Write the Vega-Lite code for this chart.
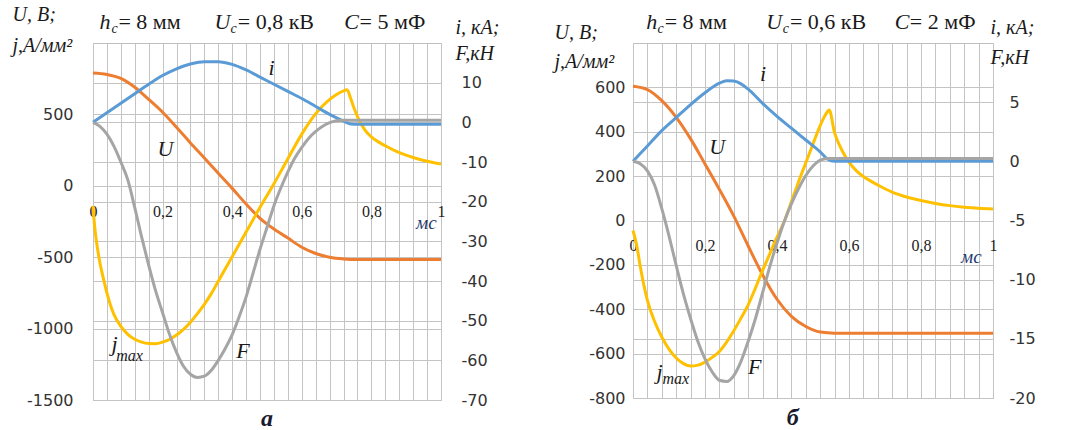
{
"$schema":"https://vega.github.io/schema/vega-lite/v6.json",
"background":"white",
"padding":{"left":11,"top":3,"right":0,"bottom":0},
"autosize":{"type":"pad"},
"spacing":192,
"bounds":"flush",
"config":{
 "view":{"stroke":"#BFBFBF","strokeWidth":1},
 "axis":{"gridColor":"#C4C4C4","gridWidth":1,"domain":false,"ticks":false,"tickSize":0,"tickCount":40,"labelFont":"DejaVu Sans","labelFontSize":16,"labelColor":"#333333"},
 "text":{"font":"Liberation Serif","fontStyle":"italic","color":"#1a1a1a"}
},
"datasets":{
"a":[
{"t":0,"v":790,"s":"U"},{"t":0.04,"v":780,"s":"U"},{"t":0.08,"v":752,"s":"U"},{"t":0.12,"v":690,"s":"U"},{"t":0.16,"v":605,"s":"U"},{"t":0.2,"v":515,"s":"U"},{"t":0.24,"v":410,"s":"U"},{"t":0.28,"v":300,"s":"U"},{"t":0.32,"v":195,"s":"U"},{"t":0.36,"v":88,"s":"U"},{"t":0.4,"v":-18,"s":"U"},{"t":0.44,"v":-128,"s":"U"},{"t":0.48,"v":-228,"s":"U"},{"t":0.52,"v":-303,"s":"U"},{"t":0.56,"v":-366,"s":"U"},{"t":0.6,"v":-430,"s":"U"},{"t":0.64,"v":-474,"s":"U"},{"t":0.68,"v":-500,"s":"U"},{"t":0.72,"v":-512,"s":"U"},{"t":0.76,"v":-516,"s":"U"},{"t":0.88,"v":-516,"s":"U"},{"t":1,"v":-516,"s":"U"},
{"t":0,"v":-140,"s":"j"},{"t":0.005,"v":-290,"s":"j"},{"t":0.01,"v":-390,"s":"j"},{"t":0.02,"v":-540,"s":"j"},{"t":0.03,"v":-650,"s":"j"},{"t":0.04,"v":-750,"s":"j"},{"t":0.05,"v":-835,"s":"j"},{"t":0.06,"v":-900,"s":"j"},{"t":0.08,"v":-985,"s":"j"},{"t":0.1,"v":-1040,"s":"j"},{"t":0.12,"v":-1075,"s":"j"},{"t":0.14,"v":-1095,"s":"j"},{"t":0.16,"v":-1105,"s":"j"},{"t":0.18,"v":-1106,"s":"j"},{"t":0.2,"v":-1095,"s":"j"},{"t":0.22,"v":-1075,"s":"j"},{"t":0.24,"v":-1045,"s":"j"},{"t":0.26,"v":-1005,"s":"j"},{"t":0.28,"v":-955,"s":"j"},{"t":0.3,"v":-895,"s":"j"},{"t":0.32,"v":-830,"s":"j"},{"t":0.34,"v":-755,"s":"j"},{"t":0.36,"v":-668,"s":"j"},{"t":0.4,"v":-496,"s":"j"},{"t":0.44,"v":-324,"s":"j"},{"t":0.48,"v":-151,"s":"j"},{"t":0.52,"v":15,"s":"j"},{"t":0.56,"v":190,"s":"j"},{"t":0.6,"v":362,"s":"j"},{"t":0.64,"v":505,"s":"j"},{"t":0.68,"v":605,"s":"j"},{"t":0.7,"v":640,"s":"j"},{"t":0.72,"v":665,"s":"j"},{"t":0.73,"v":672,"s":"j"},{"t":0.74,"v":615,"s":"j"},{"t":0.75,"v":545,"s":"j"},{"t":0.76,"v":485,"s":"j"},{"t":0.78,"v":395,"s":"j"},{"t":0.8,"v":342,"s":"j"},{"t":0.84,"v":280,"s":"j"},{"t":0.88,"v":232,"s":"j"},{"t":0.92,"v":198,"s":"j"},{"t":0.96,"v":172,"s":"j"},{"t":1,"v":153,"s":"j"},
{"t":0,"v":0,"s":"i"},{"t":0.04,"v":2.4,"s":"i"},{"t":0.08,"v":4.8,"s":"i"},{"t":0.12,"v":7.2,"s":"i"},{"t":0.16,"v":9.6,"s":"i"},{"t":0.2,"v":11.8,"s":"i"},{"t":0.24,"v":13.5,"s":"i"},{"t":0.28,"v":14.7,"s":"i"},{"t":0.32,"v":15.3,"s":"i"},{"t":0.36,"v":15.3,"s":"i"},{"t":0.4,"v":14.6,"s":"i"},{"t":0.44,"v":13.2,"s":"i"},{"t":0.48,"v":11.4,"s":"i"},{"t":0.52,"v":9.6,"s":"i"},{"t":0.56,"v":7.8,"s":"i"},{"t":0.6,"v":6,"s":"i"},{"t":0.64,"v":4,"s":"i"},{"t":0.68,"v":2,"s":"i"},{"t":0.72,"v":0.3,"s":"i"},{"t":0.74,"v":-0.4,"s":"i"},{"t":0.76,"v":-0.5,"s":"i"},{"t":0.88,"v":-0.5,"s":"i"},{"t":1,"v":-0.5,"s":"i"},
{"t":0,"v":0,"s":"F"},{"t":0.02,"v":-1,"s":"F"},{"t":0.04,"v":-3,"s":"F"},{"t":0.06,"v":-6,"s":"F"},{"t":0.08,"v":-10,"s":"F"},{"t":0.1,"v":-14.5,"s":"F"},{"t":0.12,"v":-21.5,"s":"F"},{"t":0.14,"v":-29,"s":"F"},{"t":0.16,"v":-36,"s":"F"},{"t":0.18,"v":-42.5,"s":"F"},{"t":0.2,"v":-48,"s":"F"},{"t":0.22,"v":-53.5,"s":"F"},{"t":0.24,"v":-58,"s":"F"},{"t":0.26,"v":-61.5,"s":"F"},{"t":0.28,"v":-63.5,"s":"F"},{"t":0.3,"v":-64.3,"s":"F"},{"t":0.32,"v":-64,"s":"F"},{"t":0.34,"v":-62.5,"s":"F"},{"t":0.36,"v":-60,"s":"F"},{"t":0.38,"v":-57,"s":"F"},{"t":0.4,"v":-53.5,"s":"F"},{"t":0.42,"v":-49,"s":"F"},{"t":0.44,"v":-44,"s":"F"},{"t":0.46,"v":-38,"s":"F"},{"t":0.48,"v":-32,"s":"F"},{"t":0.5,"v":-26.5,"s":"F"},{"t":0.52,"v":-21,"s":"F"},{"t":0.54,"v":-16.5,"s":"F"},{"t":0.56,"v":-12.5,"s":"F"},{"t":0.58,"v":-9,"s":"F"},{"t":0.6,"v":-6.3,"s":"F"},{"t":0.62,"v":-4,"s":"F"},{"t":0.64,"v":-2.3,"s":"F"},{"t":0.66,"v":-1,"s":"F"},{"t":0.68,"v":-0.1,"s":"F"},{"t":0.7,"v":0.4,"s":"F"},{"t":0.72,"v":0.5,"s":"F"},{"t":0.88,"v":0.5,"s":"F"},{"t":1,"v":0.5,"s":"F"}
],
"b":[
{"t":0,"v":605,"s":"U"},{"t":0.04,"v":590,"s":"U"},{"t":0.08,"v":540,"s":"U"},{"t":0.12,"v":465,"s":"U"},{"t":0.16,"v":368,"s":"U"},{"t":0.2,"v":255,"s":"U"},{"t":0.24,"v":140,"s":"U"},{"t":0.28,"v":20,"s":"U"},{"t":0.32,"v":-115,"s":"U"},{"t":0.36,"v":-245,"s":"U"},{"t":0.4,"v":-355,"s":"U"},{"t":0.44,"v":-432,"s":"U"},{"t":0.48,"v":-478,"s":"U"},{"t":0.52,"v":-503,"s":"U"},{"t":0.56,"v":-508,"s":"U"},{"t":0.8,"v":-508,"s":"U"},{"t":1,"v":-508,"s":"U"},
{"t":0,"v":-45,"s":"j"},{"t":0.01,"v":-110,"s":"j"},{"t":0.02,"v":-205,"s":"j"},{"t":0.03,"v":-290,"s":"j"},{"t":0.04,"v":-360,"s":"j"},{"t":0.06,"v":-455,"s":"j"},{"t":0.08,"v":-525,"s":"j"},{"t":0.1,"v":-580,"s":"j"},{"t":0.12,"v":-620,"s":"j"},{"t":0.14,"v":-645,"s":"j"},{"t":0.16,"v":-656,"s":"j"},{"t":0.18,"v":-652,"s":"j"},{"t":0.2,"v":-638,"s":"j"},{"t":0.22,"v":-617,"s":"j"},{"t":0.24,"v":-590,"s":"j"},{"t":0.26,"v":-548,"s":"j"},{"t":0.28,"v":-497,"s":"j"},{"t":0.3,"v":-440,"s":"j"},{"t":0.32,"v":-380,"s":"j"},{"t":0.34,"v":-305,"s":"j"},{"t":0.36,"v":-225,"s":"j"},{"t":0.38,"v":-150,"s":"j"},{"t":0.4,"v":-75,"s":"j"},{"t":0.42,"v":-5,"s":"j"},{"t":0.44,"v":85,"s":"j"},{"t":0.46,"v":175,"s":"j"},{"t":0.48,"v":260,"s":"j"},{"t":0.5,"v":345,"s":"j"},{"t":0.52,"v":428,"s":"j"},{"t":0.54,"v":490,"s":"j"},{"t":0.545,"v":498,"s":"j"},{"t":0.56,"v":395,"s":"j"},{"t":0.57,"v":352,"s":"j"},{"t":0.58,"v":318,"s":"j"},{"t":0.6,"v":263,"s":"j"},{"t":0.62,"v":225,"s":"j"},{"t":0.64,"v":198,"s":"j"},{"t":0.68,"v":160,"s":"j"},{"t":0.72,"v":128,"s":"j"},{"t":0.76,"v":106,"s":"j"},{"t":0.8,"v":90,"s":"j"},{"t":0.84,"v":77,"s":"j"},{"t":0.88,"v":67,"s":"j"},{"t":0.92,"v":60,"s":"j"},{"t":0.96,"v":55,"s":"j"},{"t":1,"v":52,"s":"j"},
{"t":0,"v":0,"s":"i"},{"t":0.04,"v":1.3,"s":"i"},{"t":0.08,"v":2.6,"s":"i"},{"t":0.12,"v":3.7,"s":"i"},{"t":0.16,"v":4.8,"s":"i"},{"t":0.2,"v":5.8,"s":"i"},{"t":0.24,"v":6.6,"s":"i"},{"t":0.26,"v":6.82,"s":"i"},{"t":0.28,"v":6.78,"s":"i"},{"t":0.3,"v":6.55,"s":"i"},{"t":0.32,"v":6.1,"s":"i"},{"t":0.36,"v":4.9,"s":"i"},{"t":0.4,"v":3.8,"s":"i"},{"t":0.44,"v":2.8,"s":"i"},{"t":0.48,"v":1.8,"s":"i"},{"t":0.52,"v":0.8,"s":"i"},{"t":0.54,"v":0.2,"s":"i"},{"t":0.56,"v":0,"s":"i"},{"t":0.8,"v":0,"s":"i"},{"t":1,"v":0,"s":"i"},
{"t":0,"v":0,"s":"F"},{"t":0.02,"v":-0.2,"s":"F"},{"t":0.04,"v":-0.8,"s":"F"},{"t":0.06,"v":-2,"s":"F"},{"t":0.08,"v":-4,"s":"F"},{"t":0.1,"v":-6.3,"s":"F"},{"t":0.12,"v":-8.8,"s":"F"},{"t":0.14,"v":-11.2,"s":"F"},{"t":0.16,"v":-13.3,"s":"F"},{"t":0.18,"v":-15.2,"s":"F"},{"t":0.2,"v":-16.7,"s":"F"},{"t":0.22,"v":-17.8,"s":"F"},{"t":0.24,"v":-18.5,"s":"F"},{"t":0.26,"v":-18.6,"s":"F"},{"t":0.28,"v":-18.1,"s":"F"},{"t":0.3,"v":-16.9,"s":"F"},{"t":0.32,"v":-15.2,"s":"F"},{"t":0.34,"v":-13.3,"s":"F"},{"t":0.36,"v":-11.1,"s":"F"},{"t":0.38,"v":-8.9,"s":"F"},{"t":0.4,"v":-6.9,"s":"F"},{"t":0.42,"v":-5.1,"s":"F"},{"t":0.44,"v":-3.6,"s":"F"},{"t":0.46,"v":-2.3,"s":"F"},{"t":0.48,"v":-1.2,"s":"F"},{"t":0.5,"v":-0.4,"s":"F"},{"t":0.52,"v":0.1,"s":"F"},{"t":0.54,"v":0.25,"s":"F"},{"t":0.8,"v":0.25,"s":"F"},{"t":1,"v":0.25,"s":"F"}
]
},
"hconcat":[
{
 "width":348,"height":357,
 "layer":[
  {"layer":[
   {"data":{"name":"a"},"transform":[{"filter":"datum.s=='U'||datum.s=='j'"}],
    "mark":{"type":"line","strokeWidth":3,"interpolate":"monotone"},
    "encoding":{
     "x":{"field":"t","type":"quantitative","scale":{"domain":[0,1],"nice":false,"zero":false},
      "axis":{"values":[0,0.04,0.08,0.12,0.16,0.2,0.24,0.28,0.32,0.36,0.4,0.44,0.48,0.52,0.56,0.6,0.64,0.68,0.72,0.76,0.8,0.84,0.88,0.92,0.96,1],"tickCount":40,
       "labelExpr":"(abs(datum.value*5-round(datum.value*5))<0.001) ? replace(toString(datum.value),'.',',') : ''",
       "offset":-215,"labelPadding":18,"labelFont":"Liberation Serif","labelFontSize":16,"labelColor":"#222222","labelOverlap":false,"labelFlush":false,"grid":true,"title":null}},
     "y":{"field":"v","type":"quantitative","scale":{"domain":[-1500,1000],"nice":false,"zero":false},
      "axis":{"orient":"left","values":[-1500,-1000,-500,0,500],"labelExpr":"toString(datum.value)","labelPadding":20,"grid":true,
       "title":["U, В;","j,A/мм²"],"titleAngle":0,"titleX":-81,"titleY":-39,"titleAlign":"left","titleBaseline":"top","titleFont":"Liberation Serif","titleFontStyle":"italic","titleFontWeight":"normal","titleFontSize":20,"titleLineHeight":31,"titleColor":"#1a1a1a"}},
     "color":{"field":"s","type":"nominal","scale":{"domain":["U","j","i","F"],"range":["#ED7D31","#FFC000","#5B9BD5","#A5A5A5"]},"legend":null}
    }},
   {"data":{"values":[{"t":0.208,"v":259,"txt":"U"},{"t":0.431,"v":-1159,"txt":"F"},{"t":0.062,"v":-1106,"txt":"j"}]},
    "mark":{"type":"text","fontSize":22,"align":"center","baseline":"middle"},
    "encoding":{"x":{"field":"t","type":"quantitative"},"y":{"field":"v","type":"quantitative"},"text":{"field":"txt"}}},
   {"data":{"values":[{"t":0.067,"v":-1190,"txt":"max"}]},
    "mark":{"type":"text","fontSize":16,"align":"left","baseline":"middle"},
    "encoding":{"x":{"field":"t","type":"quantitative"},"y":{"field":"v","type":"quantitative"},"text":{"field":"txt"}}},
   {"data":{"values":[{"t":0.958,"v":-263,"txt":"мс"}]},
    "mark":{"type":"text","fontSize":19,"align":"center","baseline":"middle","color":"#1F3A70"},
    "encoding":{"x":{"field":"t","type":"quantitative"},"y":{"field":"v","type":"quantitative"},"text":{"field":"txt"}}},
   {"data":{"values":[{"t":0.5,"v":-1632,"txt":"а"}]},
    "mark":{"type":"text","fontSize":24,"fontWeight":"bold","align":"center","baseline":"middle","color":"#1a1a2e"},
    "encoding":{"x":{"field":"t","type":"quantitative"},"y":{"field":"v","type":"quantitative"},"text":{"field":"txt"}}},
   {"data":{"values":[{"t":0.019,"v":1148,"txt":"h"},{"t":0.349,"v":1148,"txt":"U"},{"t":0.722,"v":1148,"txt":"C"}]},
    "mark":{"type":"text","fontSize":22,"align":"left","baseline":"middle"},
    "encoding":{"x":{"field":"t","type":"quantitative"},"y":{"field":"v","type":"quantitative"},"text":{"field":"txt"}}},
   {"data":{"values":[{"t":0.053,"v":1099,"txt":"c"},{"t":0.395,"v":1099,"txt":"c"}]},
    "mark":{"type":"text","fontSize":14,"align":"left","baseline":"middle"},
    "encoding":{"x":{"field":"t","type":"quantitative"},"y":{"field":"v","type":"quantitative"},"text":{"field":"txt"}}},
   {"data":{"values":[{"t":0.073,"v":1148,"txt":"= 8 мм"},{"t":0.416,"v":1148,"txt":"= 0,8 кВ"},{"t":0.766,"v":1148,"txt":"= 5 мФ"}]},
    "mark":{"type":"text","fontSize":22,"fontStyle":"normal","align":"left","baseline":"middle"},
    "encoding":{"x":{"field":"t","type":"quantitative"},"y":{"field":"v","type":"quantitative"},"text":{"field":"txt"}}}
  ]},
  {"layer":[
   {"data":{"name":"a"},"transform":[{"filter":"datum.s=='i'||datum.s=='F'"}],
    "mark":{"type":"line","strokeWidth":3,"interpolate":"monotone"},
    "encoding":{
     "x":{"field":"t","type":"quantitative"},
     "y":{"field":"v","type":"quantitative","scale":{"domain":[-70,20],"nice":false,"zero":false},
      "axis":{"orient":"right","values":[-70,-60,-50,-40,-30,-20,-10,0,10],"labelExpr":"toString(datum.value)","labelPadding":20,"grid":true,
       "title":["i, кА;","F,кН"],"titleAngle":0,"titleX":14,"titleY":-26,"titleAlign":"left","titleBaseline":"top","titleFont":"Liberation Serif","titleFontStyle":"italic","titleFontWeight":"normal","titleFontSize":20,"titleLineHeight":26,"titleColor":"#1a1a1a"}},
     "color":{"field":"s","type":"nominal","scale":{"domain":["U","j","i","F"],"range":["#ED7D31","#FFC000","#5B9BD5","#A5A5A5"]},"legend":null}
    }},
   {"data":{"values":[{"t":0.513,"v":13.7,"txt":"i"}]},
    "mark":{"type":"text","fontSize":22,"align":"center","baseline":"middle"},
    "encoding":{"x":{"field":"t","type":"quantitative"},"y":{"field":"v","type":"quantitative"},"text":{"field":"txt"}}}
  ]}
 ],
 "resolve":{"scale":{"y":"independent"}}
},
{
 "width":360,"height":355,
 "layer":[
  {"layer":[
   {"data":{"name":"b"},"transform":[{"filter":"datum.s=='U'||datum.s=='j'"}],
    "mark":{"type":"line","strokeWidth":3,"interpolate":"monotone"},
    "encoding":{
     "x":{"field":"t","type":"quantitative","scale":{"domain":[0,1],"nice":false,"zero":false},
      "axis":{"values":[0,0.04,0.08,0.12,0.16,0.2,0.24,0.28,0.32,0.36,0.4,0.44,0.48,0.52,0.56,0.6,0.64,0.68,0.72,0.76,0.8,0.84,0.88,0.92,0.96,1],"tickCount":40,
       "labelExpr":"(abs(datum.value*5-round(datum.value*5))<0.001) ? replace(toString(datum.value),'.',',') : ''",
       "offset":-176,"labelPadding":15,"labelFont":"Liberation Serif","labelFontSize":16,"labelColor":"#222222","labelOverlap":false,"labelFlush":false,"grid":true,"title":null}},
     "y":{"field":"v","type":"quantitative","scale":{"domain":[-800,800],"nice":false,"zero":false},
      "axis":{"orient":"left","values":[-800,-600,-400,-200,0,200,400,600],"labelExpr":"toString(datum.value)","labelPadding":8,"grid":true,
       "title":["U, В;","j,A/мм²"],"titleAngle":0,"titleX":-79,"titleY":-21,"titleAlign":"left","titleBaseline":"top","titleFont":"Liberation Serif","titleFontStyle":"italic","titleFontWeight":"normal","titleFontSize":20,"titleLineHeight":29,"titleColor":"#1a1a1a"}},
     "color":{"field":"s","type":"nominal","scale":{"domain":["U","j","i","F"],"range":["#ED7D31","#FFC000","#5B9BD5","#A5A5A5"]},"legend":null}
    }},
   {"data":{"values":[{"t":0.234,"v":333,"txt":"U"},{"t":0.338,"v":-660,"txt":"F"},{"t":0.074,"v":-685,"txt":"j"}]},
    "mark":{"type":"text","fontSize":22,"align":"center","baseline":"middle"},
    "encoding":{"x":{"field":"t","type":"quantitative"},"y":{"field":"v","type":"quantitative"},"text":{"field":"txt"}}},
   {"data":{"values":[{"t":0.082,"v":-716,"txt":"max"}]},
    "mark":{"type":"text","fontSize":16,"align":"left","baseline":"middle"},
    "encoding":{"x":{"field":"t","type":"quantitative"},"y":{"field":"v","type":"quantitative"},"text":{"field":"txt"}}},
   {"data":{"values":[{"t":0.94,"v":-164,"txt":"мс"}]},
    "mark":{"type":"text","fontSize":19,"align":"center","baseline":"middle","color":"#1F3A70"},
    "encoding":{"x":{"field":"t","type":"quantitative"},"y":{"field":"v","type":"quantitative"},"text":{"field":"txt"}}},
   {"data":{"values":[{"t":0.444,"v":-892,"txt":"б"}]},
    "mark":{"type":"text","fontSize":24,"fontWeight":"bold","align":"center","baseline":"middle","color":"#1a1a2e"},
    "encoding":{"x":{"field":"t","type":"quantitative"},"y":{"field":"v","type":"quantitative"},"text":{"field":"txt"}}},
   {"data":{"values":[{"t":0.037,"v":895,"txt":"h"},{"t":0.37,"v":895,"txt":"U"},{"t":0.727,"v":895,"txt":"C"}]},
    "mark":{"type":"text","fontSize":22,"align":"left","baseline":"middle"},
    "encoding":{"x":{"field":"t","type":"quantitative"},"y":{"field":"v","type":"quantitative"},"text":{"field":"txt"}}},
   {"data":{"values":[{"t":0.068,"v":863,"txt":"c"},{"t":0.416,"v":863,"txt":"c"}]},
    "mark":{"type":"text","fontSize":14,"align":"left","baseline":"middle"},
    "encoding":{"x":{"field":"t","type":"quantitative"},"y":{"field":"v","type":"quantitative"},"text":{"field":"txt"}}},
   {"data":{"values":[{"t":0.088,"v":895,"txt":"= 8 мм"},{"t":0.436,"v":895,"txt":"= 0,6 кВ"},{"t":0.769,"v":895,"txt":"= 2 мФ"}]},
    "mark":{"type":"text","fontSize":22,"fontStyle":"normal","align":"left","baseline":"middle"},
    "encoding":{"x":{"field":"t","type":"quantitative"},"y":{"field":"v","type":"quantitative"},"text":{"field":"txt"}}}
  ]},
  {"layer":[
   {"data":{"name":"b"},"transform":[{"filter":"datum.s=='i'||datum.s=='F'"}],
    "mark":{"type":"line","strokeWidth":3,"interpolate":"monotone"},
    "encoding":{
     "x":{"field":"t","type":"quantitative"},
     "y":{"field":"v","type":"quantitative","scale":{"domain":[-20,10],"nice":false,"zero":false},
      "axis":{"orient":"right","values":[-20,-15,-10,-5,0,5],"labelExpr":"toString(datum.value)","labelPadding":16,"grid":true,
       "title":["i, кА;","F,кН"],"titleAngle":0,"titleX":-3,"titleY":-26,"titleAlign":"left","titleBaseline":"top","titleFont":"Liberation Serif","titleFontStyle":"italic","titleFontWeight":"normal","titleFontSize":20,"titleLineHeight":30,"titleColor":"#1a1a1a"}},
     "color":{"field":"s","type":"nominal","scale":{"domain":["U","j","i","F"],"range":["#ED7D31","#FFC000","#5B9BD5","#A5A5A5"]},"legend":null}
    }},
   {"data":{"values":[{"t":0.361,"v":7.4,"txt":"i"}]},
    "mark":{"type":"text","fontSize":22,"align":"center","baseline":"middle"},
    "encoding":{"x":{"field":"t","type":"quantitative"},"y":{"field":"v","type":"quantitative"},"text":{"field":"txt"}}}
  ]}
 ],
 "resolve":{"scale":{"y":"independent"}}
}
]
}
